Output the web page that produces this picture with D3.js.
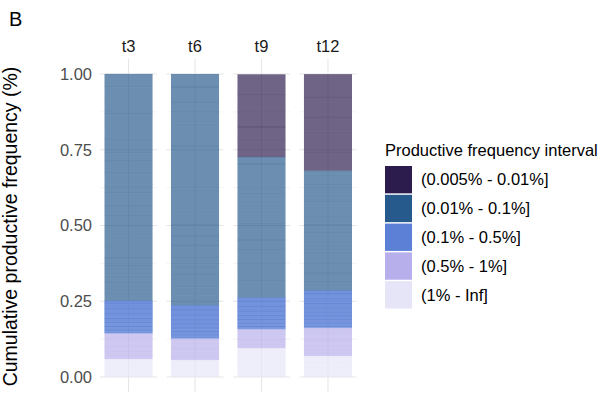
<!DOCTYPE html>
<html>
<head>
<meta charset="utf-8">
<script src="https://cdn.jsdelivr.net/npm/d3@7"></script>
<style>
  html, body { margin: 0; padding: 0; background: #fff; }
  svg { display: block; font-family: "Liberation Sans", Arial, sans-serif; }
</style>
</head>
<body>
<svg id="chart" width="612" height="400"></svg>
<script>
// Time points shown as facets
const timepoints = ["t3", "t6", "t9", "t12"];

// Frequency intervals, stacked from the bottom of each bar upward
const intervals = ["(1% - Inf]", "(0.5% - 1%]", "(0.1% - 0.5%]", "(0.01% - 0.1%]", "(0.005% - 0.01%]"];
// Legend order (top to bottom)
const legendOrder = ["(0.005% - 0.01%]", "(0.01% - 0.1%]", "(0.1% - 0.5%]", "(0.5% - 1%]", "(1% - Inf]"];
const intervalColors = ["#e6e4f7", "#b7aeec", "#5c80d6", "#275a8c", "#2c1b4d"];

const yTicks = [0, 0.25, 0.5, 0.75, 1];
const yTickLabels = ["0.00", "0.25", "0.50", "0.75", "1.00"];

// Productive frequency of each clone segment, per interval (bottom to top)
const t3Inf  = [0.033, 0.026];
const t3Half = [0.0096, 0.0091, 0.0087, 0.0083, 0.0079, 0.0075, 0.0072, 0.0069, 0.0066, 0.0063, 0.0059];
const t3Mid  = [0.0049, 0.0048, 0.0047, 0.0046, 0.0046, 0.0045, 0.0045, 0.0044, 0.0044, 0.0043, 0.0043, 0.0043, 0.0042,
                0.0042, 0.0042, 0.0041, 0.0041, 0.0041, 0.0041, 0.0040, 0.0040, 0.0040, 0.0040, 0.0040, 0.0040];
const t3Low  = [0.028, 0.031, 0.025, 0.036, 0.022, 0.041, 0.030, 0.027, 0.045, 0.033, 0.038, 0.029, 0.042, 0.035,
                0.026, 0.048, 0.037, 0.044, 0.039, 0.050, 0.044];
const t3Min  = [];

const t6Inf  = [0.031, 0.025];
const t6Half = [0.0097, 0.0093, 0.0088, 0.0082, 0.0077, 0.0072, 0.0068, 0.0064, 0.0060];
const t6Mid  = [0.0050, 0.0048, 0.0049, 0.0047, 0.0046, 0.0047, 0.0045, 0.0046, 0.0044, 0.0045, 0.0043, 0.0044, 0.0043,
                0.0042, 0.0043, 0.0042, 0.0041, 0.0042, 0.0041, 0.0040, 0.0041, 0.0040, 0.0040, 0.0040, 0.0041];
const t6Low  = [0.034, 0.027, 0.040, 0.031, 0.025, 0.044, 0.029, 0.036, 0.048, 0.030, 0.039, 0.027, 0.043, 0.033,
                0.041, 0.028, 0.046, 0.037, 0.035, 0.049, 0.043];
const t6Min  = [];

const t9Inf  = [0.041, 0.030, 0.024];
const t9Half = [0.0099, 0.0092, 0.0085, 0.0079, 0.0072, 0.0066, 0.0065, 0.0062];
const t9Mid  = [0.0049, 0.0048, 0.0047, 0.0047, 0.0046, 0.0045, 0.0045, 0.0044, 0.0044, 0.0044, 0.0043, 0.0043, 0.0043,
                0.0042, 0.0042, 0.0042, 0.0042, 0.0041, 0.0041, 0.0041, 0.0041, 0.0040, 0.0040, 0.0040];
const t9Low  = [0.031, 0.024, 0.038, 0.027, 0.042, 0.029, 0.035, 0.022, 0.040, 0.033, 0.026, 0.037, 0.030, 0.028, 0.023];
const t9Min  = [0.052, 0.047, 0.061, 0.044, 0.069];

const t12Inf  = [0.027, 0.022, 0.020];
const t12Half = [0.0098, 0.0095, 0.0091, 0.0088, 0.0084, 0.0080, 0.0077, 0.0073, 0.0070, 0.0067, 0.0051, 0.0050];
const t12Mid  = [0.0049, 0.0048, 0.0048, 0.0047, 0.0047, 0.0046, 0.0046, 0.0045, 0.0045, 0.0045, 0.0044, 0.0044, 0.0044,
                 0.0043, 0.0043, 0.0043, 0.0043, 0.0042, 0.0042, 0.0042, 0.0042, 0.0041, 0.0041, 0.0041, 0.0041, 0.0040,
                 0.0040, 0.0040];
const t12Low  = [0.034, 0.026, 0.041, 0.029, 0.023, 0.038, 0.031, 0.027, 0.044, 0.025, 0.036, 0.030, 0.013];
const t12Min  = [0.058, 0.071, 0.049, 0.066, 0.075];

const segmentsByTime = {
  t3:  [t3Inf, t3Half, t3Mid, t3Low, t3Min],
  t6:  [t6Inf, t6Half, t6Mid, t6Low, t6Min],
  t9:  [t9Inf, t9Half, t9Mid, t9Low, t9Min],
  t12: [t12Inf, t12Half, t12Mid, t12Low, t12Min]
};

const svg = d3.select("#chart");

// Facet layout
const facet = d3.scaleBand().domain(timepoints).range([100, 356.5]).paddingInner(0.142);
const inner = d3.scaleBand().domain(["x"]).range([0, facet.bandwidth()]).padding(0.0857);
const y = d3.scaleLinear().domain([0, 1]).range([377, 74]);
const panelTop = y(1.05), panelBottom = y(-0.05);
const color = d3.scaleOrdinal().domain(intervals).range(intervalColors);

// Flatten segments into stacked rectangles
const rects = [];
timepoints.forEach(t => {
  let cum = 0;
  segmentsByTime[t].forEach((arr, k) => {
    arr.forEach(v => {
      rects.push({ t, interval: intervals[k], y0: cum, y1: cum + v });
      cum += v;
    });
  });
});

const panels = svg.selectAll("g.panel").data(timepoints).join("g")
  .attr("class", "panel")
  .attr("transform", d => `translate(${facet(d)},0)`);

// Minor and major grid lines
const minorTicks = [0.125, 0.375, 0.625, 0.875];
panels.each(function() {
  const g = d3.select(this);
  g.selectAll("line.minor").data(minorTicks).join("line")
    .attr("x1", 0).attr("x2", facet.bandwidth())
    .attr("y1", d => y(d)).attr("y2", d => y(d))
    .attr("stroke", "#ededed").attr("stroke-width", 0.6);
  g.selectAll("line.major").data(yTicks).join("line")
    .attr("x1", 0).attr("x2", facet.bandwidth())
    .attr("y1", d => y(d)).attr("y2", d => y(d))
    .attr("stroke", "#e6e6e6").attr("stroke-width", 1.1);
  g.append("line")
    .attr("x1", inner("x") + inner.bandwidth() / 2).attr("x2", inner("x") + inner.bandwidth() / 2)
    .attr("y1", panelTop).attr("y2", panelBottom)
    .attr("stroke", "#e6e6e6").attr("stroke-width", 1.1);
});

// Stacked clone segments
panels.each(function(t) {
  const g = d3.select(this);
  const data = rects.filter(r => r.t === t);
  g.selectAll("rect.seg").data(data).join("rect")
    .attr("class", "seg")
    .attr("x", inner("x"))
    .attr("width", inner.bandwidth())
    .attr("y", d => y(d.y1))
    .attr("height", d => y(d.y0) - y(d.y1))
    .attr("fill", d => color(d.interval))
    .attr("fill-opacity", 0.68);
  // seams between neighbouring clone segments
  g.selectAll("line.seam").data(data.filter(d => d.y1 < 0.999)).join("line")
    .attr("class", "seam")
    .attr("x1", inner("x")).attr("x2", inner("x") + inner.bandwidth())
    .attr("y1", d => y(d.y1)).attr("y2", d => y(d.y1))
    .attr("stroke", d => color(d.interval))
    .attr("stroke-opacity", d => d.interval === "(0.1% - 0.5%]" ? 0.85 : 0.3)
    .attr("stroke-width", d => d.interval === "(0.1% - 0.5%]" ? 1 : 0.8);
});

// Facet strip labels
panels.append("text")
  .attr("x", facet.bandwidth() / 2)
  .attr("y", 52)
  .attr("text-anchor", "middle")
  .attr("font-size", 16.5)
  .attr("fill", "#1a1a1a")
  .text(d => d);

// Y axis tick labels
const yAxis = d3.axisLeft(y).tickValues(yTicks).tickFormat((d, i) => yTickLabels[i]).tickSize(0).tickPadding(0);
const yg = svg.append("g").attr("transform", "translate(92,0)").call(yAxis);
yg.select(".domain").remove();
yg.selectAll("text").attr("font-size", 16.5).attr("fill", "#4d4d4d")
  .attr("font-family", "Liberation Sans, Arial, sans-serif");

// Y axis title
svg.append("text")
  .attr("transform", `translate(17,${(panelTop + panelBottom) / 2 + 1}) rotate(-90)`)
  .attr("text-anchor", "middle")
  .attr("font-size", 19.5)
  .attr("fill", "#000")
  .text("Cumulative productive frequency (%)");

// Panel tag
svg.append("text")
  .attr("x", 9).attr("y", 26)
  .attr("font-size", 20)
  .attr("fill", "#000")
  .text("B");

// Legend
const legend = svg.append("g").attr("transform", "translate(385,0)");
legend.append("text")
  .attr("x", 0).attr("y", 156)
  .attr("font-size", 16.5)
  .attr("fill", "#000")
  .text("Productive frequency interval");
const key = d3.scaleBand().domain(legendOrder).range([166, 308.5]).paddingInner(0.05);
legend.selectAll("rect.key").data(legendOrder).join("rect")
  .attr("class", "key")
  .attr("x", 0).attr("y", d => key(d))
  .attr("width", 27).attr("height", key.bandwidth())
  .attr("fill", d => color(d));
legend.selectAll("text.lab").data(legendOrder).join("text")
  .attr("class", "lab")
  .attr("x", 36).attr("y", d => key(d) + key.bandwidth() / 2)
  .attr("dy", "0.35em")
  .attr("font-size", 16.5)
  .attr("fill", "#000")
  .text(d => d);
</script>
</body>
</html>
